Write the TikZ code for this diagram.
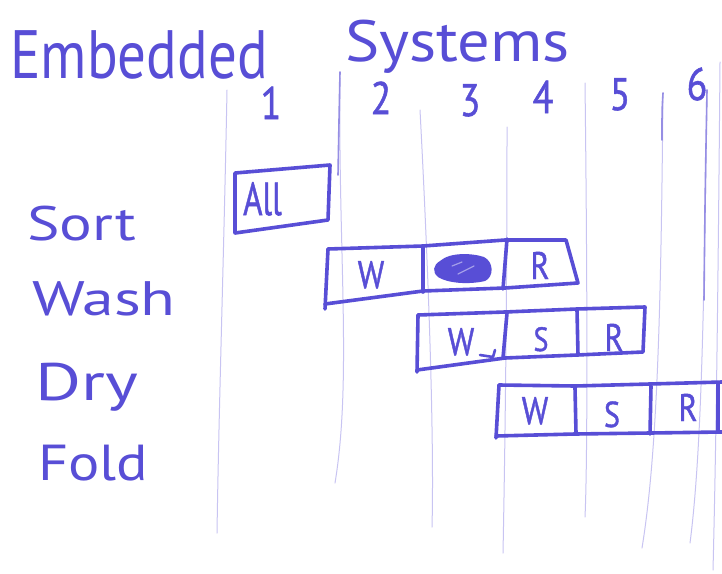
\documentclass[tikz,border=0pt]{standalone}
\usepackage{graphicx}
\usepackage{fontspec}
\newfontfamily\penfont{PT Sans}
\newfontfamily\penbold{PT Sans}[FakeBold=1.2]
\definecolor{ink}{RGB}{88,78,214}
\definecolor{rule}{RGB}{200,196,242}
\definecolor{rulemid}{RGB}{150,142,228}
\newcommand\hwtall[1]{\scalebox{1}[1.2]{#1}}
\tikzset{
  hand/.style={text=ink, inner sep=0pt, anchor=base west, font=\penfont},
  handc/.style={text=ink, inner sep=0pt, anchor=base, font=\penbold},
  pen/.style={draw=ink, line width=3.6pt, line join=round, line cap=round},
  ruling/.style={draw=rule, line width=1pt, line cap=round},
  rulingdark/.style={draw=rulemid, line width=1.6pt, line cap=round},
}
\begin{document}
\begin{tikzpicture}[x=1pt,y=-1pt]
\useasboundingbox[fill=white] (0,0) rectangle (722,573);

% time-slot rulings
\draw[ruling] (227,90) .. controls (224,250) and (219,400) .. (217,533);
\draw[ruling] (340,78) .. controls (338,250) and (352,380) .. (335,483);
\draw[rulingdark] (340,72) .. controls (339,120) .. (338,175);
\draw[ruling] (420,110) .. controls (430,300) and (434,450) .. (432,527);
\draw[ruling] (507,127) .. controls (507,300) and (505,450) .. (503,553);
\draw[ruling] (585,83) .. controls (587,250) and (588,450) .. (585,517);
\draw[ruling] (663,93) .. controls (661,300) and (658,450) .. (642,548);
\draw[rulingdark] (663,93) .. controls (662,110) .. (662,140);
\draw[ruling] (707,90) .. controls (704,300) and (702,450) .. (690,543);
\draw[rulingdark] (707,90) .. controls (705,200) .. (704,300);
\draw[ruling] (720,62) .. controls (718,300) and (716,450) .. (713,570);

% title
\node[hand] (tEmb) at (10,78) {\fontsize{57}{57}\selectfont\hwtall{Embedded}};
\node[hand] (tSys) at (345,61) {\fontsize{52}{52}\selectfont\scalebox{1.24}[1.12]{Systems}};

% slot numbers
\node[handc] (n1) at (271,119) {\fontsize{38}{38}\selectfont\hwtall{1}};
\node[handc] (n2) at (381,114) {\fontsize{38}{38}\selectfont\hwtall{2}};
\node[handc] (n3) at (470,116) {\fontsize{38}{38}\selectfont\hwtall{3}};
\node[handc] (n4) at (543,113) {\fontsize{38}{38}\selectfont\hwtall{4}};
\node[handc] (n5) at (620,110) {\fontsize{38}{38}\selectfont\hwtall{5}};
\node[handc] (n6) at (697,100) {\fontsize{38}{38}\selectfont\hwtall{6}};

% stage names
\node[hand] (sSort) at (27,240) {\fontsize{44}{44}\selectfont\scalebox{1.39}[1.1]{Sort}};
\node[hand] (sWash) at (32,315) {\fontsize{44}{44}\selectfont\scalebox{1.45}[1.1]{Wash}};
\node[hand] (sDry)  at (35,400) {\fontsize{44}{44}\selectfont\scalebox{1.6}[1.2]{Dry}};
\node[hand] (sFold) at (38,480) {\fontsize{44}{44}\selectfont\scalebox{1.33}[1.15]{Fold}};

% Sort: one box
\draw[pen] (235,173) -- (330,165) -- (328,220) -- (235,233) -- cycle;
\node[handc, anchor=base west] (aAll) at (243,215) {\fontsize{33}{33}\selectfont\scalebox{1}[1.4]{All}};

% Wash row
\draw[pen] (328,249) -- (423,246) -- (505,240) -- (566,240) -- (578,283)
  -- (505,288) -- (423,291) -- (325,304);
\draw[pen] (328,249) -- (325,309);
\draw[pen] (423,247) -- (423,292);
\draw[pen] (507,239) -- (503,289);
\node[handc] (w1) at (371,288) {\fontsize{32}{32}\selectfont\hwtall{W}};
\fill[ink] (440,261) .. controls (450,252) and (472,253) .. (484,257)
  .. controls (494,262) and (494,277) .. (485,281)
  .. controls (468,285) and (447,283) .. (438,277)
  .. controls (432,272) and (433,265) .. (440,261) -- cycle;
\draw[white, opacity=0.45, line width=1.2pt, line cap=round]
  (452,266) -- (462,262) (458,274) .. controls (466,270) .. (474,266);
\node[handc] (r1) at (540,279) {\fontsize{32}{32}\selectfont\hwtall{R}};

% Dry row
\draw[pen] (418,315) -- (505,312) -- (577,309) -- (645,307) -- (643,352)
  -- (577,355) -- (505,358) -- (417,370);
\draw[pen] (418,315) -- (417,372);
\draw[pen] (507,313) -- (503,358);
\draw[pen] (577,310) -- (578,355);
\draw[pen, line width=2.6pt] (480,355) -- (493,357) -- (495,350);
\node[handc] (w2) at (461,355) {\fontsize{32}{32}\selectfont\hwtall{W}};
\node[handc] (s2) at (541,351) {\fontsize{28}{28}\selectfont\hwtall{S}};
\node[handc] (r2) at (614,351) {\fontsize{32}{32}\selectfont\hwtall{R}};

% Fold row
\draw[pen] (499,385) -- (575,386) -- (650,384) -- (722,382);
\draw[pen] (496,436) -- (575,434) -- (650,433) -- (722,432);
\draw[pen] (499,385) -- (496,438);
\draw[pen] (575,388) -- (576,433);
\draw[pen] (651,386) -- (650,434);
\draw[pen] (718,383) -- (718,432);
\node[handc] (w3) at (535,424) {\fontsize{32}{32}\selectfont\hwtall{W}};
\node[handc] (s3) at (612,427) {\fontsize{30}{30}\selectfont\hwtall{S}};
\node[handc] (r3) at (688,421) {\fontsize{32}{32}\selectfont\hwtall{R}};
\end{tikzpicture}
\end{document}
